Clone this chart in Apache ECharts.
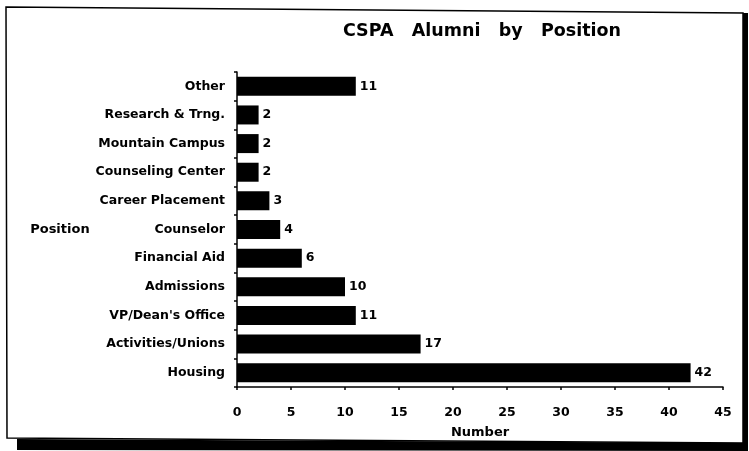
<!DOCTYPE html>
<html><head><meta charset="utf-8">
<script src="https://cdn.jsdelivr.net/npm/echarts@6/dist/echarts.min.js"></script>
<style>html,body{margin:0;padding:0;background:#fff}#c{width:749px;height:451px}</style>
</head><body><div id="c"></div>
<script>
const categories = ["Other","Research & Trng.","Mountain Campus","Counseling Center","Career Placement","Counselor","Financial Aid","Admissions","VP/Dean's Office","Activities/Unions","Housing"];
const values = [11,2,2,2,3,4,6,10,11,17,42];
const xTicks = {min:0,max:45,interval:5};

const chart = echarts.init(document.getElementById('c'));
const font = '"DejaVu Sans", Verdana, sans-serif';
chart.setOption({
  animation:false,
  backgroundColor:'#fff',
  title:{text:'CSPA   Alumni   by   Position',left:477,top:17,textAlign:'center',
    textStyle:{fontFamily:font,fontSize:17.5,fontWeight:'bold',color:'#000'}},
  grid:{left:237,right:26,top:72,bottom:64},
  xAxis:{type:'value',min:xTicks.min,max:xTicks.max,interval:xTicks.interval,
    name:'Number',nameLocation:'middle',nameGap:39,
    nameTextStyle:{fontFamily:font,fontSize:13,fontWeight:'bold',color:'#000'},
    axisLine:{show:true,lineStyle:{color:'#000',width:1.5}},
    axisTick:{show:true,inside:false,length:3,lineStyle:{color:'#000',width:1.5}},
    splitLine:{show:false},
    axisLabel:{fontFamily:font,fontSize:12.5,fontWeight:'bold',color:'#000',margin:19}},
  yAxis:{type:'category',data:categories,inverse:true,
    name:'Position',nameLocation:'middle',nameRotate:0,nameGap:147,
    nameTextStyle:{fontFamily:font,fontSize:13,fontWeight:'bold',color:'#000',align:'right'},
    axisLine:{show:true,lineStyle:{color:'#000',width:1.5}},
    axisTick:{show:true,length:3,lineStyle:{color:'#000',width:1.5}},
    axisLabel:{fontFamily:font,fontSize:12.5,fontWeight:'bold',color:'#000',margin:12}},
  series:[{type:'bar',data:values,barWidth:19,
    itemStyle:{color:'#000'},
    label:{show:true,position:'right',distance:4,fontFamily:font,fontSize:12.5,fontWeight:'bold',color:'#000'}}],
  graphic:[
    {type:'polygon',shape:{points:[[6,7],[743,13],[743,443],[7,438]]},style:{fill:'none',stroke:'#000',lineWidth:1.5},z:-1},
    {type:'polygon',shape:{points:[[17,439],[746,443],[746,451],[17,450]]},style:{fill:'#000'}},
    {type:'rect',shape:{x:743,y:13,width:5,height:438},style:{fill:'#000'}}
  ]
});
</script></body></html>
